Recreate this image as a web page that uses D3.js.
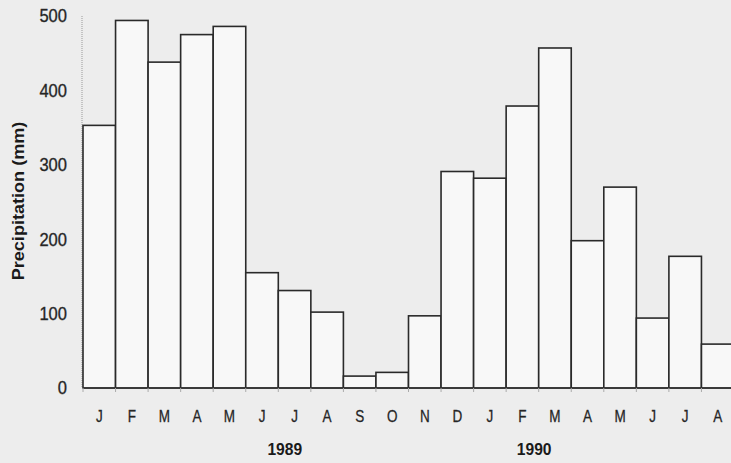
<!DOCTYPE html>
<html><head><meta charset="utf-8">
<script src="https://cdn.jsdelivr.net/npm/d3@7"></script>
<style>
html,body{margin:0;padding:0;background:#ededed;}
svg{display:block;font-family:"Liberation Sans",Arial,sans-serif;}
</style></head>
<body>
<svg id="chart" width="731" height="463"></svg>
<script>
const months = ["J","F","M","A","M","J","J","A","S","O","N","D","J","F","M","A","M","J","J","A"];
const precipitation = [353,494,438,475,486,155,131,102,16,21,97,291,282,379,457,198,270,94,177,59];
const yTicks = [0,100,200,300,400,500];
const yearLabels = ["1989","1990"];
const yearPositions = [6.2, 13.86];

const svg = d3.select("#chart");
const x0 = 83, bw = 32.55;
const x = d3.scaleBand().domain(d3.range(months.length)).range([x0, x0 + bw * months.length]).paddingInner(0).paddingOuter(0);
const y = d3.scaleLinear().domain([0, 500]).range([388, 16]);
const xl = d3.scaleLinear().domain([0, months.length]).range([x0, x0 + bw * months.length]);

svg.append("rect").attr("width",731).attr("height",463).attr("fill","#ededed");

// y axis line (faint, dotted)
svg.append("line").attr("x1",82).attr("x2",82).attr("y1",y(500)).attr("y2",y(0))
  .attr("stroke","#999").attr("stroke-width",1).attr("stroke-dasharray","1,1");

// bars
svg.append("g").selectAll("rect").data(precipitation).join("rect")
  .attr("x",(d,i)=>x(i)).attr("width",x.bandwidth())
  .attr("y",d=>y(d)).attr("height",d=>y(0)-y(d))
  .attr("fill","#f8f8f8").attr("stroke","#2a2a2a").attr("stroke-width",1.6);

// baseline
svg.append("line").attr("x1",x0).attr("x2",731).attr("y1",y(0)).attr("y2",y(0))
  .attr("stroke","#333").attr("stroke-width",1.6);

// small ticks below baseline
svg.append("g").selectAll("line").data(d3.range(months.length+1)).join("line")
  .attr("x1",i=>xl(i)).attr("x2",i=>xl(i)).attr("y1",y(0)).attr("y2",y(0)+4)
  .attr("stroke","#aaa").attr("stroke-width",1);

// y tick labels
svg.append("g").selectAll("text").data(yTicks).join("text")
  .attr("transform",d=>`translate(67,${y(d)}) scale(0.92,1)`)
  .attr("dy","0.36em").attr("text-anchor","end")
  .attr("font-size",18).attr("fill","#222").attr("stroke","#333").attr("stroke-width",0.35)
  .text(d=>d);

// y axis title
svg.append("text").attr("transform","translate(24,201) rotate(-90) scale(1.13,1)")
  .attr("text-anchor","middle").attr("font-size",16).attr("font-weight","bold")
  .attr("fill","#1a1a1a").text("Precipitation (mm)");

// month labels
svg.append("g").selectAll("text").data(months).join("text")
  .attr("transform",(d,i)=>`translate(${x(i)+x.bandwidth()/2},422) scale(0.82,1)`)
  .attr("text-anchor","middle")
  .attr("font-size",16.5).attr("fill","#222").attr("stroke","#333").attr("stroke-width",0.3)
  .text(d=>d);

// year labels
svg.append("g").selectAll("text").data(yearLabels).join("text")
  .attr("transform",(d,i)=>`translate(${xl(yearPositions[i])},455) scale(0.92,1)`)
  .attr("text-anchor","middle")
  .attr("font-size",17).attr("font-weight","bold").attr("fill","#1a1a1a").text(d=>d);
</script>
</body></html>
